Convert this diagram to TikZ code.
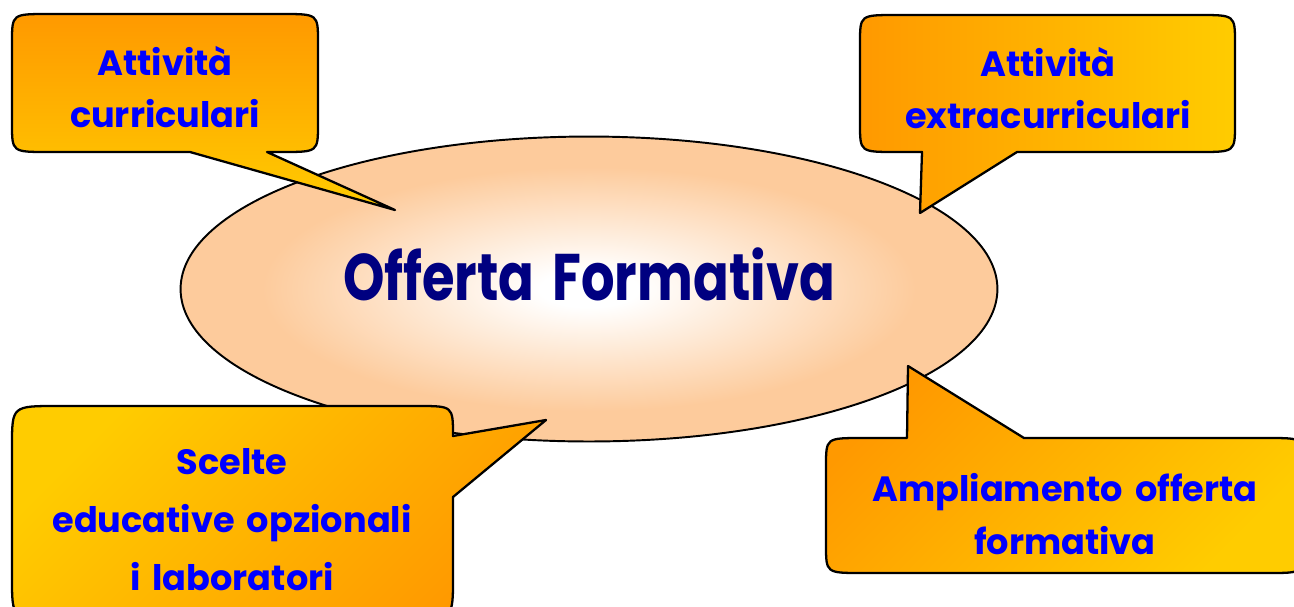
\documentclass[tikz,border=0pt]{standalone}
\usepackage{fontspec}
\usepackage{graphicx}
\setmainfont{Poppins}[WordSpace=1.6]
\usetikzlibrary{shapes.geometric}
\definecolor{orangeA}{RGB}{255,153,0}
\definecolor{yellowA}{RGB}{255,204,0}
\definecolor{peach}{RGB}{253,203,156}
\definecolor{inkblue}{RGB}{0,0,255}
\definecolor{navy}{RGB}{0,0,128}
\pgfdeclareradialshading{glow}{\pgfpoint{0bp}{0bp}}{color(0bp)=(white); color(3bp)=(white); color(20bp)=(peach); color(25bp)=(peach); color(50bp)=(peach)}
\tikzset{
  bubble/.style={draw=black, line width=1.3pt, line join=round},
  bubbletext/.style={text=inkblue, align=center, inner sep=0pt,
    font=\fontsize{20}{29.5}\selectfont\bfseries},
}
\begin{document}
\begin{tikzpicture}[x=0.02cm, y=-0.02cm]
	\useasboundingbox (0,0) rectangle (1294,606);

	% central ellipse
	\node[ellipse, draw=black, line width=1.1pt, shading=glow,
	      minimum width=16.34cm, minimum height=6.1cm, inner sep=0pt,
	      text=navy, font=\fontsize{30}{36}\selectfont\bfseries] (offer) at (589,289)
	      {\raisebox{0.6cm}{\scalebox{1}[1.25]{Offerta Formativa}}};

	% callouts
	\shadedraw[bubble, top color=orangeA, bottom color=yellowA]
	  (48,14) -- (282,14) .. controls (318,14) .. (318,42) -- (318,124) .. controls (318,152) .. (282,152)
	  -- (267,152) -- (395,210) -- (190,152)
	  -- (48,152) .. controls (12,152) .. (12,124) -- (12,42) .. controls (12,14) .. (48,14) -- cycle;
	\shadedraw[bubble, left color=orangeA, right color=yellowA]
	  (896,15) -- (1199,15) .. controls (1235,15) .. (1235,43) -- (1235,124) .. controls (1235,152) .. (1199,152)
	  -- (1017,152) -- (920,213) -- (922,152)
	  -- (896,152) .. controls (860,152) .. (860,124) -- (860,43) .. controls (860,15) .. (896,15) -- cycle;
	\shadedraw[bubble, top color=yellowA, bottom color=orangeA, shading angle=45]
	  (57,406) -- (418,406) .. controls (453,406) .. (453,436)
	  -- (546,420) -- (453,497)
	  -- (453,578) .. controls (453,619) .. (410,619) -- (57,619) .. controls (12,619) .. (12,578)
	  -- (12,446) .. controls (12,406) .. (57,406) -- cycle;
	\shadedraw[bubble, top color=orangeA, bottom color=yellowA, shading angle=45]
	  (862,438) -- (907,438) -- (908,366) -- (1024,438)
	  -- (1268,438) .. controls (1304,438) .. (1304,466) -- (1304,545) .. controls (1304,573) .. (1268,573)
	  -- (862,573) .. controls (826,573) .. (826,545) -- (826,466) .. controls (826,438) .. (862,438) -- cycle;

	% texts
	\node[bubbletext] (curr) at (165,87) {Attività\\curriculari};
	\node[bubbletext] (extra) at (1048,88) {Attività\\extracurriculari};
	\node[bubbletext, font=\fontsize{20}{33}\selectfont\bfseries] (scelte) at (232,520) {Scelte\\educative opzionali\\i laboratori};
	\node[bubbletext, font=\fontsize{20}{30.6}\selectfont\bfseries] (ampl) at (1065,514) {Ampliamento offerta\\formativa};

\end{tikzpicture}
\end{document}
